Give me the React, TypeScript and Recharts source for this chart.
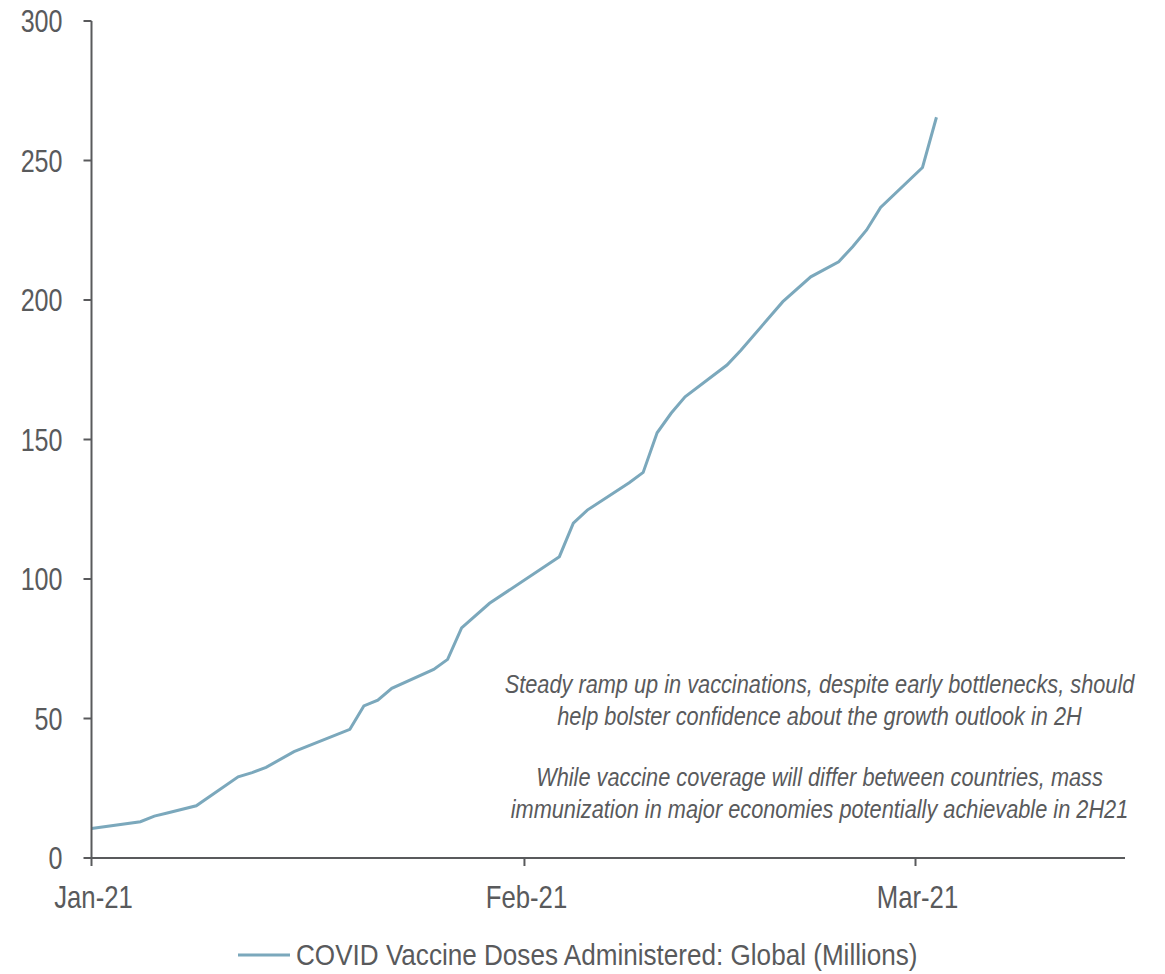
import React from "react";
import { LineChart, Line, XAxis, YAxis, Legend } from "recharts";

// Day offsets from 1 Jan 2021 and cumulative doses (millions)
const dayOffsets = [0, 3.5, 4.5, 5.5, 7.5, 10.5, 11.5, 12.5, 14.5, 18.5, 19.5, 20.5, 21.5, 24.5, 25.5, 26.5, 28.5, 33.5, 34.5, 35.5, 38.5, 39.5, 40.5, 41.5, 42.5, 45.5, 46.5, 49.5, 51.5, 53.5, 54.5, 55.5, 56.5, 59.5, 60.5];
const dosesMillions = [10.6, 13.0, 15.0, 16.2, 18.7, 29.1, 30.6, 32.5, 38.1, 46.1, 54.5, 56.6, 60.8, 67.6, 71.2, 82.5, 91.3, 108.0, 120.0, 124.7, 134.5, 138.2, 152.4, 159.4, 165.3, 176.7, 182.0, 199.4, 208.3, 213.7, 219.1, 225.1, 233.2, 247.5, 265.5];

const xTickDays = [0, 31, 59];
const xTickLabels = ["Jan-21", "Feb-21", "Mar-21"];
const yTicks = [0, 50, 100, 150, 200, 250, 300];
const seriesName = "COVID Vaccine Doses Administered: Global (Millions)";
const notes = [
  "Steady ramp up in vaccinations, despite early bottlenecks, should",
  "help bolster confidence about the growth outlook in 2H",
  "While vaccine coverage will differ between countries, mass",
  "immunization in major economies potentially achievable in 2H21",
];

const data = dayOffsets.map((d, i) => ({ day: d, doses: dosesMillions[i] }));

const FONT = "'Liberation Sans', Arial, sans-serif";
const TEXT = "#595a5c";
const AXIS = "#595a5c";
const LINE = "#7ba8bc";

const YTick = (props: any) => {
  const { x, y, payload } = props;
  return (
    <text
      transform={`translate(${x},${y}) scale(0.81,1)`}
      textAnchor="end"
      dy="0.36em"
      fill={TEXT}
      fontSize={31}
      fontFamily={FONT}
    >
      {payload.value}
    </text>
  );
};

const XTick = (props: any) => {
  const { x, y, payload } = props;
  const idx = xTickDays.indexOf(payload.value);
  return (
    <text
      transform={`translate(${x + 2},${y}) scale(0.83,1)`}
      textAnchor="middle"
      dy="0.71em"
      fill={TEXT}
      fontSize={31}
      fontFamily={FONT}
    >
      {idx >= 0 ? xTickLabels[idx] : ""}
    </text>
  );
};

const LegendContent = () => (
  <div style={{ display: "flex", justifyContent: "center", alignItems: "center", height: 32 }}>
    <svg width={690} height={32}>
      <line x1={0} y1={16} x2={52} y2={16} stroke={LINE} strokeWidth={3} />
      <text
        transform="translate(58,16) scale(0.9,1)"
        dy="0.36em"
        fill={TEXT}
        fontSize={29}
        fontFamily={FONT}
      >
        {seriesName}
      </text>
    </svg>
  </div>
);

const noteBaselines = [693, 725, 786, 818];

export default function App() {
  return (
    <div style={{ position: "relative", top: -8, width: 1150, height: 968 }}>
      <LineChart width={1150} height={968} data={data} margin={{ top: 21, right: 33, left: 0, bottom: 0 }}>
        <XAxis
          dataKey="day"
          type="number"
          domain={[0, 74]}
          ticks={xTickDays}
          stroke={AXIS}
          strokeWidth={2}
          tickSize={8}
          tickMargin={20}
          height={50}
          tick={<XTick />}
        />
        <YAxis
          type="number"
          domain={[0, 300]}
          ticks={yTicks}
          stroke={AXIS}
          strokeWidth={2}
          tickSize={8}
          tickMargin={21}
          width={83.5}
          tick={<YTick />}
        />
        <Legend
          verticalAlign="bottom"
          height={60}
          content={<LegendContent />}
          wrapperStyle={{ top: 939, left: 0, width: 1150 }}
        />
        <Line
          type="linear"
          dataKey="doses"
          name={seriesName}
          stroke={LINE}
          strokeWidth={3}
          dot={false}
          activeDot={false}
          isAnimationActive={false}
        />
      </LineChart>
      <svg
        width={1150}
        height={968}
        style={{ position: "absolute", left: 0, top: 0, pointerEvents: "none" }}
      >
        {notes.map((t, i) => (
          <text
            key={i}
            transform={`translate(811.5,${noteBaselines[i]}) scale(0.87,1)`}
            textAnchor="middle"
            fill={TEXT}
            fontSize={25}
            fontStyle="italic"
            fontFamily={FONT}
          >
            {t}
          </text>
        ))}
      </svg>
    </div>
  );
}
